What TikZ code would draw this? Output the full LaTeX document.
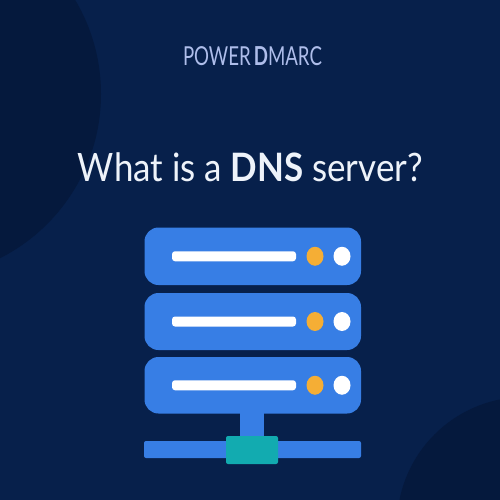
\documentclass[tikz,border=0pt]{standalone}
\usepackage{fontspec}
\setmainfont{Lato}
\definecolor{bg}{HTML}{07204B}
\definecolor{bgdark}{HTML}{05193D}
\definecolor{srv}{HTML}{377EE5}
\definecolor{amber}{HTML}{F5AE35}
\definecolor{teal2}{HTML}{12ABB0}
\definecolor{logo}{HTML}{AEBDEA}
\definecolor{titlec}{HTML}{EEF3FA}
\tikzset{
  px/.style={x=1pt,y=-1pt},
  unit/.style={fill=srv,rounded corners=14pt},
  slot/.style={fill=white,rounded corners=3pt},
  boxnode/.style={inner sep=0pt,outer sep=0pt}
}
\begin{document}
\begin{tikzpicture}[px]
\useasboundingbox (0,0) rectangle (500,500);
\fill[bg] (0,0) rectangle (500,500);
\begin{scope}
\clip (0,0) rectangle (500,500);
\fill[bgdark] (-83,94) circle[radius=184];
\fill[bgdark] (525,525) circle[radius=128];
\end{scope}
\node[boxnode,text=logo,anchor=base] (brand) at (252.5,66) {\scalebox{1}[1.4]{\resizebox{139pt}{!}{POWER\,{\bfseries D}MARC}}};
\node[boxnode,text=titlec,anchor=base] (headline) at (250.5,181) {\scalebox{1}[1.12]{\resizebox{345pt}{!}{What is a {\bfseries DNS} server?}}};
% stem and base
\fill[srv] (240,410) rectangle (264,442);
\fill[srv,rounded corners=2pt] (144,441) rectangle (361,458);
\fill[teal2,rounded corners=2pt] (226,436) rectangle (278,464);
% units
\foreach \t/\b in {227.5/285,293/350,357/413.5}{
  \fill[unit] (144.5,\t) rectangle (361,\b);
  \fill[slot] (172,{(\t+\b)/2-5}) rectangle (296,{(\t+\b)/2+5});
  \fill[amber] (315,{(\t+\b)/2}) ellipse[x radius=8.5,y radius=9.5];
  \fill[white] (342,{(\t+\b)/2}) ellipse[x radius=8.5,y radius=9.5];
}
\end{tikzpicture}
\end{document}
